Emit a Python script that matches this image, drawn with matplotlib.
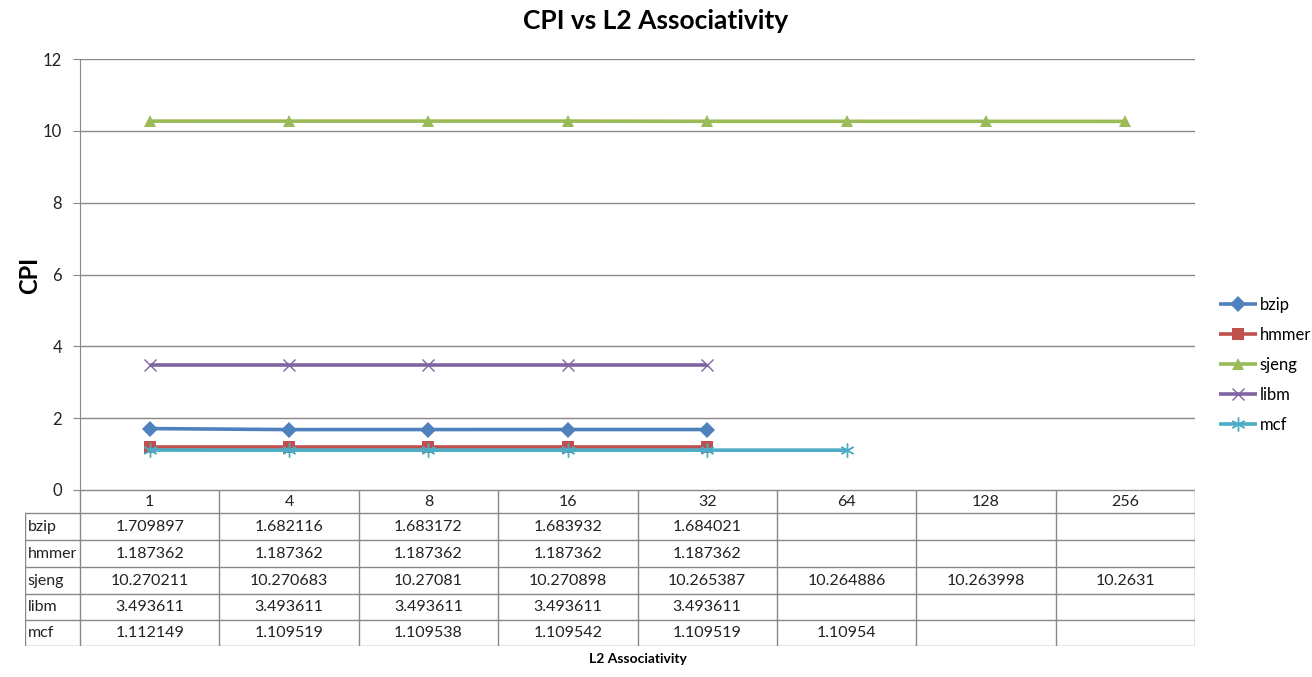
import matplotlib
matplotlib.use("Agg")
import matplotlib.pyplot as plt

plt.rcParams["font.family"] = ["Lato", "DejaVu Sans"]

# ---------------------------------------------------------------------------
# Data
# ---------------------------------------------------------------------------
assoc = ["1", "4", "8", "16", "32", "64", "128", "256"]

bzip  = [1.709897, 1.682116, 1.683172, 1.683932, 1.684021]
hmmer = [1.187362, 1.187362, 1.187362, 1.187362, 1.187362]
sjeng = [10.270211, 10.270683, 10.27081, 10.270898, 10.265387,
         10.264886, 10.263998, 10.2631]
libm  = [3.493611, 3.493611, 3.493611, 3.493611, 3.493611]
mcf   = [1.112149, 1.109519, 1.109538, 1.109542, 1.109519, 1.10954]

series = [
    ("bzip",  bzip,  "#4F81BD", "D", 8),
    ("hmmer", hmmer, "#C0504D", "s", 9),
    ("sjeng", sjeng, "#9BBB59", "^", 9),
    ("libm",  libm,  "#8064A2", "x", 9),
    ("mcf",   mcf,   "#4BACC6", (6, 2, 0), 10),
]

W, H = 1312, 677
GRID = "#888888"
TXT = "#222222"

fig = plt.figure(figsize=(W / 100, H / 100), dpi=100)

# plot area in pixels
x0, x1 = 80, 1195
y_top, y_bot = 59, 490
ax = fig.add_axes([x0 / W, 1 - y_bot / H, (x1 - x0) / W, (y_bot - y_top) / H])

n = len(assoc)
for name, vals, color, marker, ms in series:
    xs = list(range(len(vals)))
    mew = 1.0 if marker == "x" or isinstance(marker, tuple) else 0
    ax.plot(xs, vals, color=color, lw=2.6, marker=marker, ms=ms,
            mec=color, mfc=color, mew=mew, label=name, solid_capstyle="butt")

ax.set_xlim(-0.5, n - 0.5)
ax.set_ylim(0, 12)
ax.set_yticks(range(0, 13, 2))
ax.grid(axis="y", color=GRID, lw=1)
ax.set_axisbelow(True)
ax.set_xticks([])
for s in ("top", "right", "bottom"):
    ax.spines[s].set_visible(False)
ax.spines["left"].set_color(GRID)
ax.tick_params(axis="y", length=5, color=GRID, labelsize=12, pad=8,
               labelcolor=TXT)

fig.text(30 / W, 1 - 275 / H, "CPI", rotation=90, ha="center", va="center",
         fontsize=17, fontweight="bold")
fig.text(656 / W, 1 - 21 / H, "CPI vs L2 Associativity", ha="center",
         va="center", fontsize=19, fontweight="bold")

handles, labels = ax.get_legend_handles_labels()
fig.legend(handles, labels, loc="center left",
           bbox_to_anchor=(1219 / W, 1 - 365 / H), frameon=False,
           fontsize=12, handlelength=2.3, labelspacing=0.85,
           handletextpad=0.15, borderaxespad=0, borderpad=0)

# ---------------------------------------------------------------------------
# Data table under the plot area
# ---------------------------------------------------------------------------
tx0 = 25
ty1 = 646
col_w = (x1 - x0) / n
label_w = (x0 - tx0) / col_w
tax = fig.add_axes([tx0 / W, 1 - ty1 / H, (x1 - tx0) / W, (ty1 - y_bot) / H])
tax.set_xlim(-0.5 - label_w, n - 0.5)
rows_px = [490, 513, 540, 567, 594, 620, 646]
tax.set_ylim(rows_px[-1], rows_px[0])
tax.axis("off")

lw = 1
tax.plot([-0.5, n - 0.5], [rows_px[0]] * 2, color=GRID, lw=lw)
for y in rows_px[1:]:
    tax.plot([-0.5 - label_w, n - 0.5], [y, y], color=GRID, lw=lw)
tax.plot([-0.5 - label_w] * 2, [rows_px[1], rows_px[-1]], color=GRID, lw=lw)
for i in range(n + 1):
    tax.plot([i - 0.5] * 2, [rows_px[0], rows_px[-1]], color=GRID, lw=lw)

for i, lab in enumerate(assoc):
    tax.text(i, (rows_px[0] + rows_px[1]) / 2, lab, ha="center", va="center",
             fontsize=11.5, color=TXT)

for r, (name, vals, *_rest) in enumerate(series):
    yc = (rows_px[r + 1] + rows_px[r + 2]) / 2
    tax.text(-0.5 - label_w + 0.02, yc, name, ha="left", va="center",
             fontsize=11.5, color=TXT)
    for i, v in enumerate(vals):
        tax.text(i, yc, f"{v:.6f}".rstrip("0").rstrip("."), ha="center",
                 va="center", fontsize=11.5, color=TXT)

fig.text((x0 + x1) / 2 / W, 1 - 659 / H, "L2 Associativity", ha="center",
         va="center", fontsize=10, fontweight="bold")

fig.savefig("out.png", dpi=100)
